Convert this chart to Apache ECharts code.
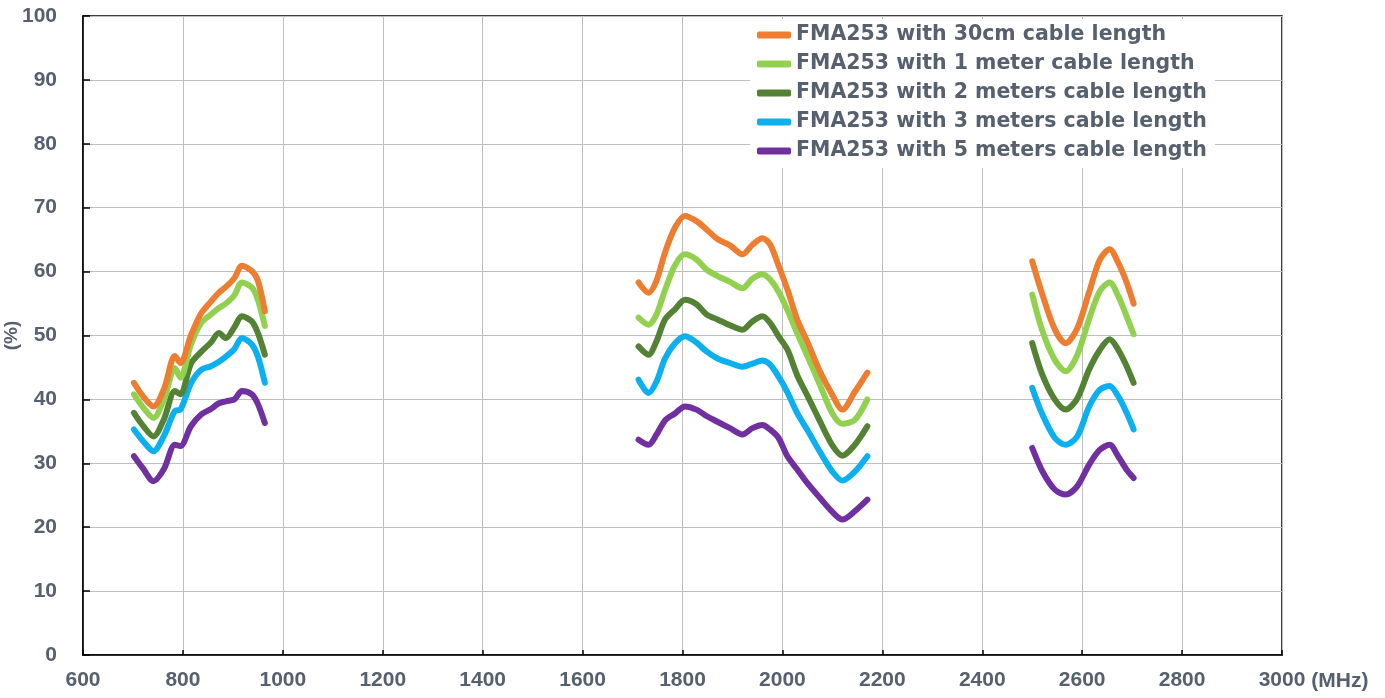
<!DOCTYPE html>
<html>
<head>
<meta charset="utf-8">
<script src="https://cdn.jsdelivr.net/npm/echarts@6/dist/echarts.min.js"></script>
<style>
html,body{margin:0;padding:0;background:#fff;}
#chart{width:1385px;height:698px;}
</style>
</head>
<body>
<div id="chart"></div>
<script>
// Frequencies (MHz); null separates the three measured bands
const freqs = [
  702, 720, 741, 762, 784, 795, 816, 836, 856, 872, 886, 903, 918, 938, 950, 964,
  null,
  1712, 1732, 1748, 1765, 1785, 1805, 1828, 1848, 1870, 1895, 1920, 1940, 1960, 1975, 1992, 2010, 2030, 2050, 2075, 2100, 2120, 2145, 2170,
  null,
  2500, 2520, 2545, 2567, 2590, 2614, 2635, 2655, 2672, 2689, 2703
];

const seriesNames = [
  'FMA253 with 30cm cable length',
  'FMA253 with 1 meter cable length',
  'FMA253 with 2 meters cable length',
  'FMA253 with 3 meters cable length',
  'FMA253 with 5 meters cable length'
];

const cable30cm = [
  42.6, 40.5, 38.9, 41.6, 46.8, 45.7, 50.0, 53.4, 55.3, 56.7, 57.6, 59.0, 60.9, 60.1, 58.6, 53.8,
  null,
  58.3, 56.7, 58.6, 63.0, 66.9, 68.7, 67.9, 66.6, 65.1, 64.1, 62.7, 64.2, 65.2, 64.3, 61.0, 57.2, 52.4, 49.0, 44.4, 40.7, 38.4, 41.2, 44.2,
  null,
  61.6, 56.5, 51.0, 48.8, 51.1, 56.8, 61.8, 63.5, 61.4, 58.3, 55.0
];
const cable1m = [
  40.8, 38.8, 37.1, 40.0, 44.9, 43.4, 48.6, 51.9, 53.3, 54.3, 55.0, 56.3, 58.3, 57.5, 55.6, 51.5,
  null,
  52.8, 51.7, 53.3, 57.1, 61.0, 62.7, 61.9, 60.3, 59.3, 58.4, 57.4, 58.9, 59.6, 58.8, 56.9, 54.0, 50.3, 46.8, 42.3, 37.8, 36.2, 36.8, 40.0,
  null,
  56.4, 50.8, 46.2, 44.4, 46.9, 52.6, 56.9, 58.3, 56.2, 53.0, 50.2
];
const cable2m = [
  37.9, 35.9, 34.2, 36.9, 41.3, 40.8, 45.6, 47.4, 48.9, 50.4, 49.6, 51.3, 53.0, 52.2, 50.4, 47.0,
  null,
  48.3, 47.0, 49.1, 52.5, 54.1, 55.6, 54.9, 53.3, 52.5, 51.6, 50.9, 52.2, 53.0, 52.0, 49.9, 47.8, 43.7, 40.6, 36.6, 32.8, 31.2, 32.9, 35.8,
  null,
  48.8, 43.9, 40.0, 38.4, 40.1, 44.7, 47.7, 49.4, 47.8, 45.2, 42.6
];
const cable3m = [
  35.3, 33.5, 31.9, 34.3, 38.2, 38.4, 42.5, 44.6, 45.2, 45.9, 46.7, 47.9, 49.6, 48.6, 46.7, 42.6,
  null,
  43.1, 41.0, 42.8, 46.4, 48.8, 49.9, 48.9, 47.5, 46.4, 45.7, 45.1, 45.6, 46.1, 45.5, 43.6, 41.1, 37.8, 35.2, 31.8, 28.7, 27.3, 28.7, 31.1,
  null,
  41.8, 37.7, 34.0, 32.9, 34.2, 38.9, 41.5, 42.1, 40.5, 37.9, 35.3
];
const cable5m = [
  31.1, 29.2, 27.2, 29.1, 32.9, 32.7, 35.8, 37.6, 38.5, 39.4, 39.7, 40.0, 41.3, 40.8, 39.3, 36.3,
  null,
  33.7, 32.9, 34.5, 36.7, 37.8, 38.9, 38.4, 37.4, 36.5, 35.5, 34.5, 35.5, 36.0, 35.3, 34.0, 31.1, 29.0, 26.9, 24.6, 22.4, 21.2, 22.5, 24.3,
  null,
  32.4, 28.8, 25.9, 25.1, 26.4, 29.8, 32.1, 32.9, 31.1, 29.0, 27.7
];

const seriesValues = [cable30cm, cable1m, cable2m, cable3m, cable5m];
const seriesColors = ['#ED7D31', '#92D050', '#548235', '#0DB0EE', '#7030A0'];

const labelColor = '#56606e';
const axisFont = "'Liberation Sans', Arial, sans-serif";

function buildData(vals) {
  return freqs.map((f, i) => (f === null || vals[i] === null) ? ['-', '-'] : [f, vals[i]]);
}

const chart = echarts.init(document.getElementById('chart'), null, { renderer: 'canvas' });

const option = {
  backgroundColor: '#ffffff',
  animation: false,
  grid: {
    left: 83, right: 103, top: 16, bottom: 43,
    containLabel: false,
    outerBoundsMode: 'none',
    show: true, borderColor: '#000', borderWidth: 1.5, backgroundColor: 'transparent'
  },
  legend: {
    orient: 'vertical',
    left: 750,
    top: 19,
    padding: [5, 8, 6, 7],
    backgroundColor: '#ffffff',
    itemWidth: 34,
    itemHeight: 7,
    itemGap: 7,
    icon: 'roundRect',
    data: seriesNames,
    textStyle: {
      fontFamily: 'DejaVu Sans',
      fontWeight: 'bold',
      fontSize: 20.5,
      color: labelColor,
      lineHeight: 22
    }
  },
  xAxis: {
    type: 'value',
    min: 600, max: 3000, interval: 200,
    name: '(MHz)',
    nameLocation: 'end',
    nameGap: 21,
    nameTextStyle: {
      fontFamily: axisFont,
      fontWeight: 'bold', fontSize: 21, color: labelColor,
      verticalAlign: 'top', padding: [16, 0, 0, 0]
    },
    axisLine: { show: true, lineStyle: { color: '#000', width: 1.5 } },
    axisTick: { show: true, inside: true, length: 5, lineStyle: { color: '#000', width: 1.5 } },
    axisLabel: {
      margin: 15,
      fontFamily: axisFont,
      fontWeight: 'bold', fontSize: 21, color: labelColor,
      formatter: function (v) { return String(v); }
    },
    splitLine: { show: true, lineStyle: { color: '#bfbfbf', width: 1 } }
  },
  yAxis: {
    type: 'value',
    min: 0, max: 100, interval: 10,
    name: '(%)',
    nameLocation: 'middle',
    nameGap: 62,
    nameMoveOverlap: false,
    nameTextStyle: {
      fontFamily: axisFont,
      fontWeight: 'bold', fontSize: 19, color: labelColor
    },
    axisLine: { show: true, lineStyle: { color: '#000', width: 1.5 } },
    axisTick: { show: true, inside: true, length: 7, lineStyle: { color: '#000', width: 1.5 } },
    axisLabel: {
      margin: 26,
      fontFamily: axisFont,
      fontWeight: 'bold', fontSize: 21, color: labelColor,
      formatter: function (v) { return String(v); }
    },
    splitLine: { show: true, lineStyle: { color: '#bfbfbf', width: 1 } }
  },
  series: seriesNames.map((name, k) => ({
    name: name,
    type: 'line',
    data: buildData(seriesValues[k]),
    showSymbol: false,
    smooth: 0.3,
    connectNulls: false,
    color: seriesColors[k],
    lineStyle: { width: 6, color: seriesColors[k], cap: 'round', join: 'round' },
    z: 10 - k
  }))
};

chart.setOption(option);
</script>
</body>
</html>
